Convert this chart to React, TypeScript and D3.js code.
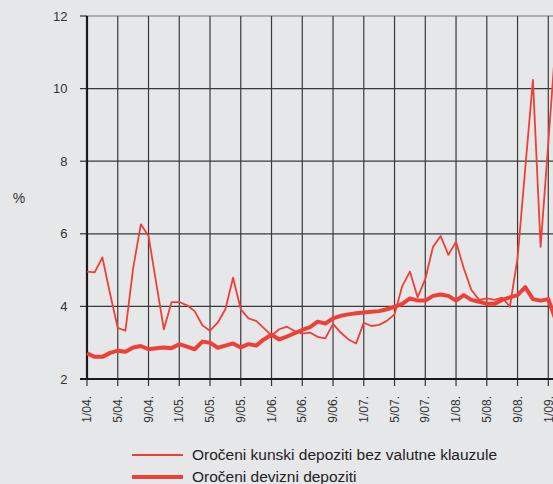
import React, { useEffect } from 'react';
import * as d3 from 'd3';

// monthly observations, 1/04. .. 2/09.
const kunski = [
  4.96, 4.94, 5.35, 4.35, 3.41, 3.33, 5.05, 6.26, 5.94, 4.65, 3.37, 4.12,
  4.12, 4.03, 3.87, 3.48, 3.33, 3.55, 3.92, 4.79, 3.92, 3.67, 3.6, 3.4,
  3.2, 3.37, 3.44, 3.32, 3.25, 3.28, 3.16, 3.12, 3.52, 3.28, 3.09, 2.98,
  3.55, 3.46, 3.49, 3.6, 3.78, 4.56, 4.96, 4.25, 4.75, 5.64, 5.94, 5.42,
  5.78, 5.05, 4.45, 4.18, 4.22, 4.18, 4.24, 3.99, 5.33, 7.8, 10.24, 5.64,
  8.5, 11.4,
];
const devizni = [
  2.71, 2.61, 2.61, 2.72, 2.78, 2.75, 2.87, 2.91, 2.82, 2.85, 2.87, 2.85,
  2.96, 2.89, 2.82, 3.03, 3.0, 2.86, 2.92, 2.98, 2.87, 2.96, 2.92, 3.09,
  3.22, 3.09, 3.17, 3.26, 3.35, 3.43, 3.58, 3.53, 3.67, 3.74, 3.78, 3.81,
  3.83, 3.85, 3.87, 3.92, 3.99, 4.07, 4.22, 4.16, 4.16, 4.29, 4.33, 4.29,
  4.16, 4.31, 4.18, 4.13, 4.07, 4.07, 4.18, 4.25, 4.31, 4.53, 4.2, 4.16,
  4.2, 3.6,
];
const tickLabels = [
  '1/04.', '5/04.', '9/04.', '1/05.', '5/05.', '9/05.', '1/06.', '5/06.',
  '9/06.', '1/07.', '5/07.', '9/07.', '1/08.', '5/08.', '9/08.', '1/09.',
];
const yTicks = [2, 4, 6, 8, 10, 12];
const seriesNames = ['Oročeni kunski depoziti bez valutne klauzule', 'Oročeni devizni depoziti'];

const W = 553;
const H = 484;
const RED = '#ee4036';
const BG = '#e6e7e9';
const FONT = 'Liberation Sans, Arial, sans-serif';

export default function App() {
  useEffect(() => {
    document.body.style.margin = '0';
  }, []);

  const left = 87;
  const right = W;
  const top = 16;
  const bottom = 379;

  const x = d3.scaleLinear().domain([0, 60]).range([left, 548.3]);
  const y = d3.scaleLinear().domain([2, 12]).range([bottom, top]);

  const line = d3.line<number>()
    .x((_, i) => x(i))
    .y(d => y(d));

  return (
    <svg width={W} height={H} style={{ display: 'block', background: BG }} fontFamily={FONT}>
      <rect width={W} height={H} fill={BG} />

      {/* horizontal grid + y ticks */}
      {yTicks.map(t => (
        <g key={t}>
          {t > 2 && (
            <line x1={left} x2={right} y1={y(t)} y2={y(t)}
              stroke={t === 12 ? '#777' : '#3a3a3a'} strokeWidth={1.2} />
          )}
          <line x1={80} x2={left} y1={y(t)} y2={y(t)} stroke="#333" strokeWidth={1.2} />
          <text x={67.5} y={y(t)} dy="0.35em" textAnchor="end" fontSize={13} fill="#333">{t}</text>
        </g>
      ))}

      {/* vertical grid + x ticks */}
      {tickLabels.map((lab, k) => {
        const xi = x(k * 4);
        return (
          <g key={lab}>
            {k > 0 && (
              <line x1={xi} x2={xi} y1={top} y2={bottom} stroke="#3a3a3a" strokeWidth={1.2} />
            )}
            <line x1={xi} x2={xi} y1={bottom} y2={386} stroke="#333" strokeWidth={1.2} />
            <text transform={`translate(${xi},${396}) rotate(-90)`} dy="0.35em"
              textAnchor="end" fontSize={12} fill="#333">{lab}</text>
          </g>
        );
      })}

      {/* axes */}
      <line x1={left} x2={left} y1={top} y2={bottom + 1} stroke="#1a1a1a" strokeWidth={2.2} />
      <line x1={80} x2={right} y1={bottom} y2={bottom} stroke="#1a1a1a" strokeWidth={2.2} />

      <text x={19} y={198} dy="0.35em" textAnchor="middle" fontSize={14} fill="#333">%</text>

      {/* series */}
      <path d={line(devizni) || ''} fill="none" stroke={RED} strokeWidth={4} strokeLinejoin="round" />
      <path d={line(kunski) || ''} fill="none" stroke={RED} strokeWidth={1.8} strokeLinejoin="round" />

      {/* legend */}
      <line x1={132} x2={183} y1={455} y2={455} stroke={RED} strokeWidth={1.8} />
      <text x={192} y={455} dy="0.35em" fontSize={15.5} fill="#222">{seriesNames[0]}</text>
      <line x1={132} x2={183} y1={477} y2={477} stroke={RED} strokeWidth={4} />
      <text x={192} y={477} dy="0.35em" fontSize={15.5} fill="#222">{seriesNames[1]}</text>
    </svg>
  );
}
